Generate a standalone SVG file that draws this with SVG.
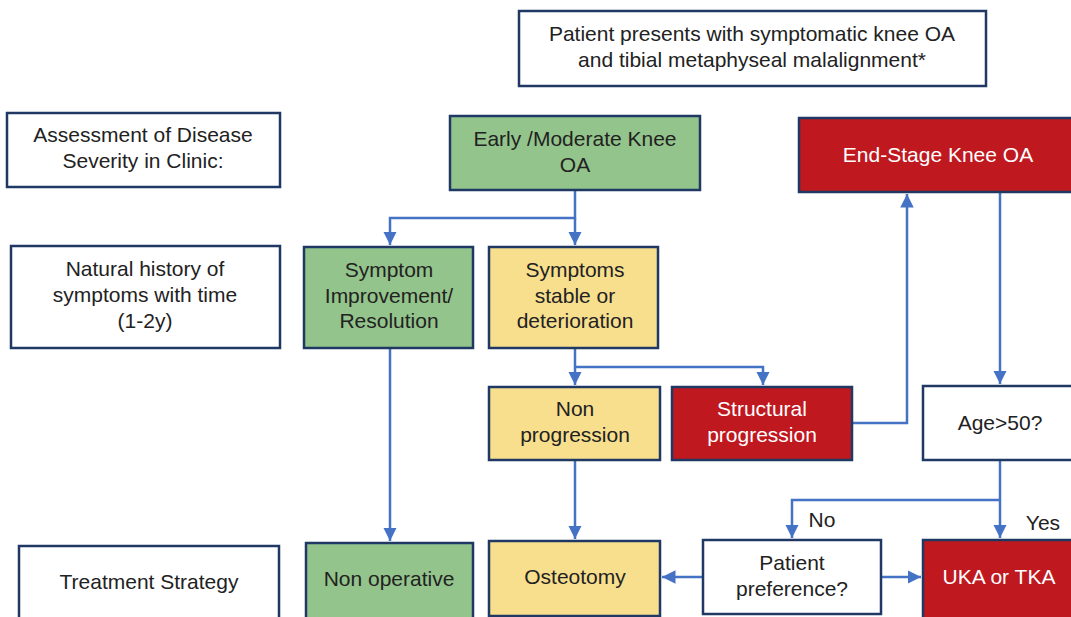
<svg xmlns="http://www.w3.org/2000/svg" width="1071" height="617" viewBox="0 0 1071 617">
  <defs>
    <style>
      .box { stroke: #1f3864; stroke-width: 2.5; }
      .plain { fill: #ffffff; }
      .green { fill: #93c48b; }
      .yellow { fill: #f8df8e; }
      .red { fill: #c0181f; }
      text { font-family: "Liberation Sans", Arial, sans-serif; font-size: 21px; fill: #222222; text-anchor: middle; }
      text.light { fill: #ffffff; }
      .link { fill: none; stroke: #4472c4; stroke-width: 2.5; }
    </style>
    <marker id="arrow" viewBox="0 0 10 10" refX="10" refY="5" markerWidth="5.4" markerHeight="5.6" markerUnits="strokeWidth" orient="auto">
      <path d="M0,0 L10,5 L0,10 z" fill="#4472c4"/>
    </marker>
  </defs>

  <!-- connectors -->
  <g id="connectors">
    <path class="link" d="M575,190 V218 H390 V245" marker-end="url(#arrow)"/>
    <path class="link" d="M575,218 V245" marker-end="url(#arrow)"/>
    <path class="link" d="M575,348 V367 V385" marker-end="url(#arrow)"/>
    <path class="link" d="M575,367 H763 V385" marker-end="url(#arrow)"/>
    <path class="link" d="M852,423 H907 V194" marker-end="url(#arrow)"/>
    <path class="link" d="M1000,192 V384" marker-end="url(#arrow)"/>
    <path class="link" d="M1000,460 V538" marker-end="url(#arrow)"/>
    <path class="link" d="M1000,500 H792 V538" marker-end="url(#arrow)"/>
    <path class="link" d="M390,348 V541" marker-end="url(#arrow)"/>
    <path class="link" d="M575,460 V539" marker-end="url(#arrow)"/>
    <path class="link" d="M703,577 H662" marker-end="url(#arrow)"/>
    <path class="link" d="M881,577 H921" marker-end="url(#arrow)"/>
    <text x="822" y="527">No</text>
    <text x="1043" y="530">Yes</text>
  </g>

  <g id="start">
    <rect class="box plain" x="519" y="11" width="467" height="75"/>
    <text x="752" y="41">Patient presents with symptomatic knee OA</text>
    <text x="752" y="67">and tibial metaphyseal malalignment*</text>
  </g>

  <g id="row-assessment">
    <rect class="box plain" x="7" y="113" width="273" height="74"/>
    <text x="143" y="142">Assessment of Disease</text>
    <text x="143" y="168">Severity in Clinic:</text>
  </g>

  <g id="row-history">
    <rect class="box plain" x="11" y="246" width="269" height="102"/>
    <text x="145" y="276">Natural history of</text>
    <text x="145" y="302">symptoms with time</text>
    <text x="145" y="328">(1-2y)</text>
  </g>

  <g id="row-treatment">
    <rect class="box plain" x="19" y="546" width="260" height="80"/>
    <text x="149" y="589">Treatment Strategy</text>
  </g>

  <g id="early-oa">
    <rect class="box green" x="450" y="116" width="250" height="74"/>
    <text x="575" y="146">Early /Moderate Knee</text>
    <text x="575" y="172">OA</text>
  </g>

  <g id="end-stage-oa">
    <rect class="box red" x="799" y="118" width="290" height="74"/>
    <text class="light" x="938" y="162">End-Stage Knee OA</text>
  </g>

  <g id="symptom-improvement">
    <rect class="box green" x="304" y="247" width="169" height="101"/>
    <text x="389" y="277">Symptom</text>
    <text x="389" y="303">Improvement/</text>
    <text x="389" y="328">Resolution</text>
  </g>

  <g id="symptoms-stable">
    <rect class="box yellow" x="489" y="247" width="169" height="101"/>
    <text x="575" y="277">Symptoms</text>
    <text x="575" y="303">stable or</text>
    <text x="575" y="328">deterioration</text>
  </g>

  <g id="non-progression">
    <rect class="box yellow" x="489" y="387" width="171" height="73"/>
    <text x="575" y="416">Non</text>
    <text x="575" y="442">progression</text>
  </g>

  <g id="structural-progression">
    <rect class="box red" x="672" y="387" width="180" height="73"/>
    <text class="light" x="762" y="416">Structural</text>
    <text class="light" x="762" y="442">progression</text>
  </g>

  <g id="age-check">
    <rect class="box plain" x="923" y="386" width="170" height="74"/>
    <text x="1000" y="430">Age&gt;50?</text>
  </g>

  <g id="non-operative">
    <rect class="box green" x="306" y="543" width="167" height="80"/>
    <text x="389" y="586">Non operative</text>
  </g>

  <g id="osteotomy">
    <rect class="box yellow" x="489" y="541" width="171" height="75"/>
    <text x="575" y="584">Osteotomy</text>
  </g>

  <g id="patient-preference">
    <rect class="box plain" x="703" y="540" width="178" height="74"/>
    <text x="792" y="570">Patient</text>
    <text x="792" y="596">preference?</text>
  </g>

  <g id="arthroplasty">
    <rect class="box red" x="923" y="540" width="170" height="85"/>
    <text class="light" x="999" y="584">UKA or TKA</text>
  </g>
</svg>
